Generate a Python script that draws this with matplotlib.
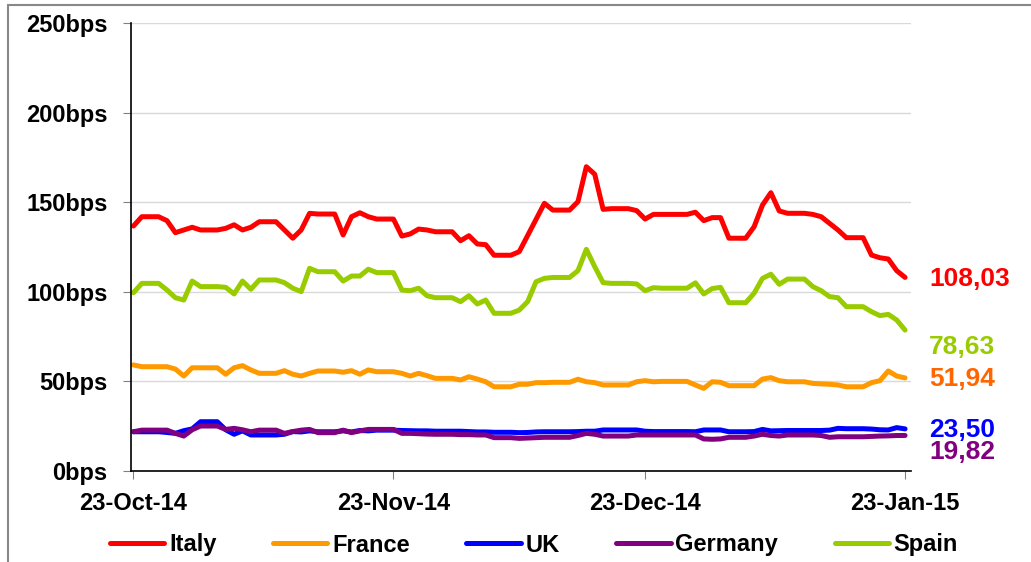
import pandas as pd
import matplotlib
matplotlib.use('Agg')
import matplotlib.pyplot as plt
import matplotlib.dates as mdates
from matplotlib.patches import Rectangle

plt.rcParams['font.family'] = ['Liberation Sans', 'DejaVu Sans']

#Business days from 23-Oct-14 to 23-Jan-15 (weekends carry Friday's value)
start_date = '2014-10-23'
end_date = '2015-01-23'

countries = ['Italy', 'France', 'UK', 'Germany', 'Spain']
line_colors = ['#FF0000', '#FF9900', '#0000FF', '#800080', '#99CC00']
end_label_colors = ['#FF0000', '#FF6600', '#0000FF', '#800080', '#99CC00']

#Spreads in bps, one value per business day (67 days)
italy = [136.7, 141.9, 139.7, 133.0, 134.5, 136.0, 134.5, 135.4, 137.4, 134.5,
         136.0, 139.1, 134.5, 129.9, 134.5, 143.8, 143.4, 131.7, 141.9, 144.1,
         141.9, 140.6, 131.1, 132.3, 135.0, 134.5, 133.5, 128.5, 131.3, 126.7,
         126.3, 120.4, 122.4, 131.4, 140.4, 149.4, 145.6, 150.3, 169.8, 165.6,
         146.0, 146.4, 145.3, 140.6, 143.2, 143.2, 143.2, 144.4, 139.7, 141.4,
         141.4, 129.9, 136.3, 148.4, 155.3, 145.1, 143.8, 143.2, 141.9, 138.2,
         134.5, 130.2, 120.5, 119.0, 118.3, 111.8, 108.03]
france = [59.2, 58.2, 58.2, 56.9, 53.0, 57.6, 57.6, 54.0, 57.6, 58.8,
          56.4, 54.5, 56.0, 54.0, 53.0, 54.5, 55.8, 55.1, 56.0, 54.0,
          56.4, 55.4, 54.5, 53.0, 54.5, 53.2, 51.7, 50.8, 52.6, 51.3,
          49.8, 47.0, 48.4, 48.4, 49.3, 49.3, 49.5, 51.2, 49.8, 49.3,
          48.0, 48.0, 49.8, 50.4, 49.8, 50.0, 50.0, 48.0, 46.1, 49.8,
          49.5, 47.6, 47.6, 51.3, 52.1, 50.4, 49.8, 48.9, 48.6, 48.4,
          48.0, 47.0, 49.3, 50.4, 55.8, 53.0, 51.94]
uk = [21.9, 21.9, 21.5, 21.0, 22.5, 23.5, 27.5, 23.0, 20.5, 22.4,
      20.1, 20.1, 20.5, 22.0, 21.8, 22.4, 21.9, 22.4, 21.8, 22.6,
      22.4, 22.8, 22.6, 22.5, 22.4, 22.4, 22.2, 22.2, 22.0, 21.8,
      21.8, 21.6, 21.4, 21.5, 21.8, 21.9, 21.9, 22.0, 22.2, 22.2,
      22.9, 22.9, 22.9, 22.2, 22.0, 22.0, 22.0, 21.9, 22.9, 22.9,
      22.9, 21.9, 22.0, 23.2, 22.4, 22.5, 22.6, 22.6, 22.6, 22.8,
      23.8, 23.6, 23.4, 23.0, 22.9, 24.2, 23.50]
germany = [21.9, 22.8, 22.8, 21.0, 19.5, 23.0, 25.1, 23.2, 23.8, 23.0,
           21.9, 22.8, 21.0, 22.0, 22.8, 23.2, 21.4, 22.8, 21.4, 22.4,
           23.2, 23.2, 21.0, 21.0, 20.8, 20.6, 20.5, 20.3, 20.3, 20.1,
           20.1, 18.6, 18.2, 18.4, 18.6, 18.8, 18.8, 19.8, 21.0, 20.5,
           19.5, 19.5, 20.1, 20.1, 20.1, 20.1, 20.1, 20.1, 17.9, 17.7,
           17.9, 18.8, 19.5, 20.5, 19.8, 19.5, 20.1, 20.1, 19.8, 18.8,
           19.1, 19.1, 19.3, 19.5, 19.6, 19.8, 19.82]
spain = [99.5, 104.7, 101.0, 96.7, 95.4, 106.0, 102.9, 102.5, 98.8, 106.0,
         101.4, 106.6, 105.1, 102.0, 100.1, 113.1, 111.2, 106.0, 108.8, 108.8,
         112.6, 110.7, 101.0, 100.6, 102.0, 97.8, 96.7, 94.5, 97.8, 93.2,
         95.4, 88.0, 89.8, 94.5, 105.6, 107.5, 108.0, 111.8, 123.7, 114.0,
         105.1, 104.7, 104.4, 100.6, 102.3, 102.0, 102.0, 105.0, 98.8, 101.8,
         102.5, 93.9, 99.2, 107.5, 109.8, 104.2, 107.1, 102.9, 100.6, 97.3,
         96.7, 91.7, 88.9, 86.7, 87.4, 84.3, 78.63]

y_ticks = [0, 50, 100, 150, 200, 250]
x_tick_dates = ['2014-10-23', '2014-11-23', '2014-12-23', '2015-01-23']


def main():
    bdays = pd.bdate_range(start_date, end_date)
    series_values = [italy, france, uk, germany, spain]

    fig = plt.figure(figsize=(10.31, 5.62), dpi=100)
    ax = fig.add_axes([131 / 1031, 91 / 562, 780 / 1031, 448 / 562])

    for name, values, color in zip(countries, series_values, line_colors):
        s = pd.Series(values, index=bdays).asfreq('D', method='ffill')
        ax.plot(s.index, s.values, color=color, lw=3.6, label=name,
                solid_capstyle='round', solid_joinstyle='round')

    #axis limits and ticks
    ax.set_ylim(0, 250)
    ax.set_yticks(y_ticks)
    ax.set_yticklabels([f'{v}bps' for v in y_ticks])
    ax.set_xlim(pd.Timestamp(start_date) - pd.Timedelta(hours=7),
                pd.Timestamp(end_date) + pd.Timedelta(hours=17))
    ax.set_xticks([pd.Timestamp(d) for d in x_tick_dates])
    ax.xaxis.set_major_formatter(mdates.DateFormatter('%d-%b-%y'))

    ax.grid(axis='y', color='#D9D9D9', lw=1)
    ax.set_axisbelow(True)
    for side in ['top', 'right']:
        ax.spines[side].set_visible(False)
    for side in ['left', 'bottom']:
        ax.spines[side].set_color('black')
        ax.spines[side].set_linewidth(1.2)
    ax.tick_params(axis='y', length=6, color='#808080', pad=11, labelsize=17)
    ax.tick_params(axis='x', length=6, color='#808080', pad=9, labelsize=17)
    for lab in ax.get_xticklabels() + ax.get_yticklabels():
        lab.set_fontweight('bold')

    #last values written at the right of the chart (Italy, France, UK, Germany, Spain)
    label_y = [279, 379, 430, 452, 347]
    for values, color, ypix in zip(series_values, end_label_colors, label_y):
        txt = f'{values[-1]:.2f}'.replace('.', ',')
        fig.text(929 / 1031, 1 - ypix / 562, txt, color=color, fontsize=19,
                 fontweight='bold', ha='left', va='center')

    fig.legend(loc='center', bbox_to_anchor=(534 / 1031, 17 / 562), ncol=5,
               frameon=False, handlelength=2.3, handletextpad=0.2,
               columnspacing=2.4, prop={'size': 17, 'weight': 'bold'})

    #grey frame around the chart area
    fig.patches.append(Rectangle((8 / 1031, -0.1), 1.2, 1.1 - 5 / 562,
                                 transform=fig.transFigure, fill=False,
                                 edgecolor='#888888', lw=1.5))

    plt.savefig('out.png', dpi=100)


main()
